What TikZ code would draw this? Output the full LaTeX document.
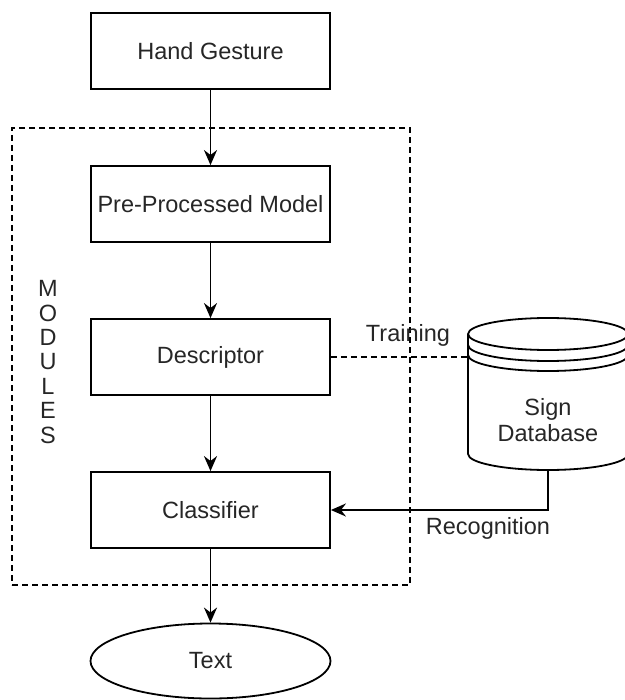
\documentclass[tikz,border=0pt]{standalone}
\usepackage{fontspec}
\setmainfont{Liberation Sans}
\usetikzlibrary{arrows.meta,shapes.geometric}
\begin{document}
\begin{tikzpicture}[x=1pt,y=-1pt,
  every node/.style={font=\fontsize{23.5}{24.4}\selectfont, text=black!85},
  box/.style={draw, line width=1.8pt, minimum width=239pt, minimum height=76pt, inner sep=0pt},
  conn/.style={line width=1.8pt, -{Stealth[length=15pt,width=13pt]}},
  dline/.style={line width=1.5pt, dash pattern=on 6pt off 4pt}]
\useasboundingbox (0,0) rectangle (624,700);
% modules frame
\node[draw, dline, minimum width=398pt, minimum height=457pt, inner sep=0pt] (mod) at (211,356.5) {};
\node[align=center, inner sep=0pt] (modlabel) at (48,362) {M\\O\\D\\U\\L\\E\\S};
% boxes
\node[box] (hand) at (210.5,51) {Hand Gesture};
\node[box] (pre) at (210.5,204) {Pre-Processed Model};
\node[box] (desc) at (210.5,357) {Descriptor};
\node[box] (cls) at (210.5,510) {Classifier};
\node[draw, ellipse, line width=1.8pt, minimum width=240pt, minimum height=75pt, inner sep=0pt] (txt) at (210.5,661) {Text};
% database cylinder
\begin{scope}[line width=1.8pt]
\draw[fill=white] (468,334) -- (468,454) arc[start angle=180, end angle=0, x radius=80, y radius=16] -- (628,334);
\draw (548,334) ellipse [x radius=80, y radius=16];
\draw (468,345) arc[start angle=180, end angle=0, x radius=80, y radius=16];
\draw (468,355) arc[start angle=180, end angle=0, x radius=80, y radius=16];
\end{scope}
\node[inner sep=0pt, minimum width=160pt, minimum height=152pt] (db) at (548,394) {};
\node[align=center, font=\fontsize{23.5}{26}\selectfont] (dbtext) at (548,420) {Sign\\Database};
% connectors
\draw[conn] (hand) -- (pre);
\draw[conn] (pre) -- (desc);
\draw[conn] (desc) -- (cls);
\draw[conn] (cls) -- (txt);
\draw[dline] (desc.east) -- (desc.east -| db.west);
\coordinate (dbbot) at (548,470);
\draw[conn] (dbbot) |- (cls.east);
\node (train) at (408,335) {Training};
\node (recog) at (488,528) {Recognition};
\end{tikzpicture}
\end{document}
